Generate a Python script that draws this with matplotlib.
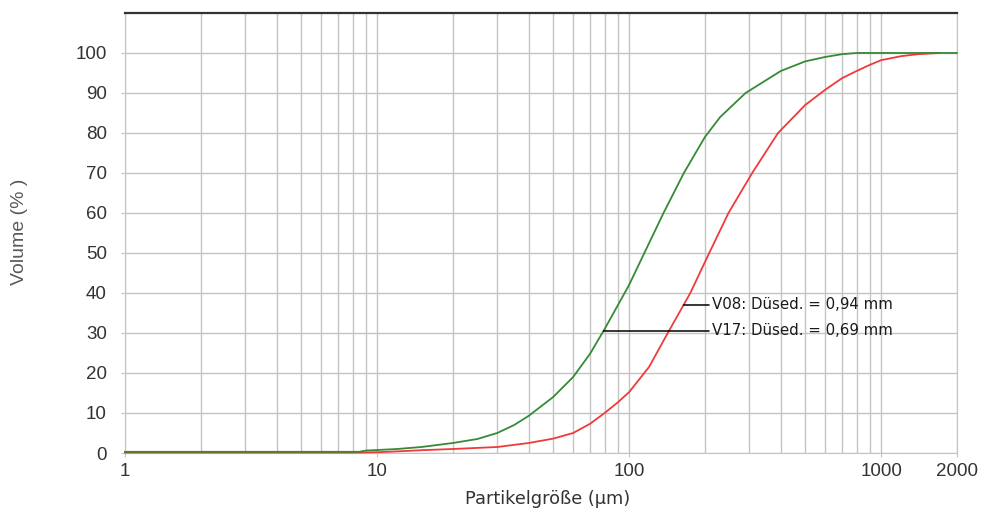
import numpy as np
import matplotlib
matplotlib.use('Agg')
import matplotlib.pyplot as plt
from matplotlib.ticker import LogLocator, NullFormatter

# Particle size (µm) and cumulative volume (%)
size_v08 = [1, 8, 10, 12, 15, 20, 30, 40, 50, 60, 70, 80, 90, 100, 120, 141,
            175, 208, 248, 308, 390, 500, 600, 700, 800, 900, 1000, 1200,
            1400, 1700]
vol_v08 = [0.1, 0.1, 0.2, 0.4, 0.7, 1.0, 1.5, 2.5, 3.6, 5.0, 7.3, 10.0, 12.6,
           15.2, 21.5, 29.5, 40.0, 50.0, 60.0, 70.0, 80.0, 87.0, 90.8, 93.7,
           95.5, 97.0, 98.2, 99.2, 99.7, 100.0]

size_v17 = [1, 8.5, 9, 12, 15, 20, 25, 30, 35, 40, 50, 60, 70, 80, 90, 100,
            115, 137, 165, 200, 230, 290, 400, 500, 600, 700, 800, 2000]
vol_v17 = [0.3, 0.3, 0.6, 1.0, 1.5, 2.5, 3.5, 5.0, 7.0, 9.3, 14.0, 19.0, 24.8,
           31.0, 36.8, 42.0, 50.0, 60.0, 70.0, 79.0, 84.0, 90.0, 95.5, 97.9,
           99.0, 99.7, 100.0, 100.0]

label_v08 = 'V08: Düsed. = 0,94 mm'
label_v17 = 'V17: Düsed. = 0,69 mm'

x_ticks = [1, 10, 100, 1000, 2000]
x_ticklabels = ['1', '10', '100', '1000', '2000']
y_ticks = list(range(0, 101, 10))

tick_font = ['Liberation Sans Narrow', 'Liberation Sans', 'DejaVu Sans']

fig = plt.figure(figsize=(9.82, 5.11), dpi=100)
ax = fig.add_axes([0.1273, 0.1135, 0.8472, 0.8611])

grid_c = '#c4c4c4'
ax.set_xscale('log')
ax.set_xlim(1, 2000)
ax.set_ylim(0, 110)

ax.xaxis.set_minor_locator(LogLocator(base=10, subs=np.arange(2, 10)))
ax.xaxis.set_minor_formatter(NullFormatter())
ax.grid(True, which='both', axis='x', color=grid_c, lw=1)
ax.grid(True, which='major', axis='y', color=grid_c, lw=1)
ax.set_axisbelow(True)

# Plot the curves
ax.plot(size_v08, vol_v08, c='#f03a3a', lw=1.3, clip_on=False, zorder=3)
ax.plot(size_v17, vol_v17, c='#368a36', lw=1.3, clip_on=False, zorder=4)

# Labels pointing at the curves
def curve_x(sizes, vols, y):
    return 10 ** np.interp(y, vols, np.log10(sizes))

text_x = 213
for sizes, vols, y, lab in [(size_v08, vol_v08, 37, label_v08),
                            (size_v17, vol_v17, 30.5, label_v17)]:
    ax.annotate(lab, xy=(curve_x(sizes, vols, y), y), xytext=(text_x, y),
                va='center', ha='left', fontsize=10.8, color='#1a1a1a',
                arrowprops=dict(arrowstyle='-', color='black', lw=1.1,
                                shrinkA=0, shrinkB=0), zorder=5)

# Format axes
ax.set_xticks(x_ticks)
ax.set_xticklabels(x_ticklabels)
ax.set_yticks(y_ticks)
for lab in ax.get_xticklabels() + ax.get_yticklabels():
    lab.set_family(tick_font)
    lab.set_fontsize(13.5)
    lab.set_color('#333333')
ax.tick_params(axis='both', which='both', length=3, color=grid_c)
ax.tick_params(axis='y', pad=10)
ax.tick_params(axis='x', pad=4)
ax.tick_params(axis='x', which='minor', length=0)

for side in ['left', 'right', 'bottom']:
    ax.spines[side].set_color(grid_c)
ax.spines['top'].set_color('#333333')
ax.spines['top'].set_linewidth(1.6)

ax.set_xlabel('Partikelgröße (µm)', fontsize=12.8, color='#333333')
ax.xaxis.set_label_coords(0.508, -0.085)
fig.text(0.02, 0.546, 'Volume (% )', rotation=90, ha='center',
         va='center', fontsize=14, color='#5a5a5a', family=tick_font)

plt.savefig('out.png', dpi=100)
